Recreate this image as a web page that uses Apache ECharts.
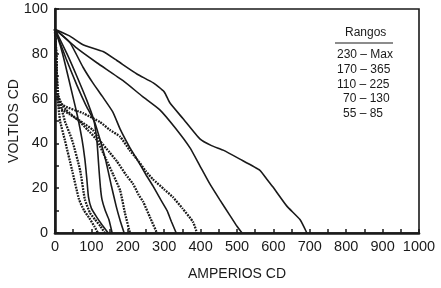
<!DOCTYPE html>
<html>
<head>
<meta charset="utf-8">
<script src="https://cdn.jsdelivr.net/npm/echarts@6/dist/echarts.min.js"></script>
<style>html,body{margin:0;padding:0;background:#fff}#c{width:441px;height:288px}</style>
</head>
<body>
<div id="c"></div>
<script>
var xTicks = [0,100,200,300,400,500,600,700,800,900,1000];
var yTicks = [0,20,40,60,80,100];
var legendTitle = 'Rangos';
var legendRows = ['230 – Max','170 – 365','110 – 225','70 – 130','55 – 85'];

// solid curves (max of each range)
var s1 = [[0,91],[40,88],[77,84],[132,81],[170,77],[225,71],[270,67],[300,63],[316,58],[352,51],[398,42],[430,39],[462,37],[508,33],[563,28],[582,24],[599,20.5],[637,12],[673,6],[692,0]];
var s2 = [[0,91],[60,82.5],[115,76],[187,68],[240,61],[288,55],[330,47],[371,38],[398,30],[425,22],[452,15],[480,8],[500,3],[514,0]];
var s3 = [[0,91],[41,85],[77,74],[104,67],[130,61],[159,54],[180,46],[206,38],[225,33],[250,26],[269,21],[290,15],[308,10],[320,5],[333,0]];
var s4 = [[0,91],[33,80],[60,70],[88,59],[110,49],[124,41.5],[140,32],[155,21],[168,12],[180,5],[190,0]];
var s5 = [[0,91],[30,78],[60,66],[85,57],[107,50],[115,41.5],[118,35],[121,28],[125,20],[129,15],[138,10],[148,6],[157,0]];
var s6 = [[0,91],[14,84],[27,76],[49,61],[62,52],[74,42],[82,33],[87,25],[92,16],[100,11],[115,7],[130,3.5],[146,0]];
// dotted curves (min of each range)
var d1 = [[0,91],[4,78],[6,62],[22,57],[77,53.5],[124,49.5],[151,46],[179,43],[205,37],[225,33],[250,27.5],[269,24],[300,19.5],[324,16],[350,11],[379,5],[390,0]];
var d2 = [[0,91],[4,78],[7,62],[12,56],[40,53],[69,50],[104,46],[124,41],[150,36],[170,32],[195,26],[214,22],[230,17],[242,14],[261,7],[280,0]];
var d3 = [[0,91],[4,78],[8,60],[30,55],[66,50],[90,46],[115,41.5],[140,33],[160,26],[179,19],[192,9],[206,0]];
var d4 = [[0,91],[3,75],[9,62],[27,50],[47,41.5],[69,28],[82,15],[96,9],[110,6],[125,3],[137,0]];
var d5 = [[0,91],[2,75],[6,62],[14,50],[27,41.5],[47,28],[66,15],[80,10],[93,7],[108,3],[118,0]];

var solidCurves = [s1,s2,s3,s4,s5,s6];
var dottedCurves = [d1,d2,d3,d4,d5];

var FONT = "'Liberation Sans', Arial, sans-serif";
var INK = '#1a1a1a';

var series = [];
solidCurves.forEach(function(d){
  series.push({type:'line', data:d, symbol:'none', smooth:0.15, silent:true,
    lineStyle:{color:INK, width:1.6, type:'solid'}});
});
dottedCurves.forEach(function(d){
  series.push({type:'line', data:d, symbol:'none', smooth:0.15, silent:true,
    lineStyle:{color:INK, width:2.3, type:[1.8,1.1]}});
});

var legendX = [337,337,337,343,343];
var graphics = [
  {type:'text', left:345, top:27, style:{text:legendTitle, font:'12px '+FONT, fill:INK}},
  {type:'line', shape:{x1:335,y1:43,x2:393,y2:43}, style:{stroke:INK, lineWidth:1.2}}
];
legendRows.forEach(function(t,i){
  graphics.push({type:'text', left:legendX[i], top:49 + i*14.6, style:{text:t, font:'12px '+FONT, fill:INK}});
});

var chart = echarts.init(document.getElementById('c'), null, {renderer:'canvas'});
chart.setOption({
  animation:false,
  grid:{left:55, right:22, top:9, bottom:55, outerBoundsMode:'none', containLabel:false, show:true, borderColor:INK, borderWidth:1.6, backgroundColor:'transparent'},
  xAxis:{type:'value', min:xTicks[0], max:xTicks[xTicks.length-1], interval:100,
    name:'AMPERIOS CD', nameLocation:'middle', nameGap:34, nameMoveOverlap:false,
    nameTextStyle:{fontFamily:FONT, fontSize:14, color:INK},
    axisLine:{show:true, onZero:false, lineStyle:{color:INK, width:2.6}},
    axisTick:{show:true, inside:true, length:4, lineStyle:{color:INK, width:1.5}},
    minorTick:{show:true, splitNumber:2, length:4, lineStyle:{color:INK, width:1.5}},
    splitLine:{show:false},
    axisLabel:{fontFamily:FONT, fontSize:14.5, color:INK, margin:6, formatter:function(v){return String(v);}}
  },
  yAxis:{type:'value', min:yTicks[0], max:yTicks[yTicks.length-1], interval:20,
    name:'VOLTIOS CD', nameLocation:'middle', nameGap:34, nameMoveOverlap:false,
    nameTextStyle:{fontFamily:FONT, fontSize:14, color:INK},
    axisLine:{show:true, onZero:false, lineStyle:{color:INK, width:2.6}},
    axisTick:{show:true, inside:true, length:4, lineStyle:{color:INK, width:1.5}},
    minorTick:{show:true, splitNumber:2, length:4, lineStyle:{color:INK, width:1.5}},
    splitLine:{show:false},
    axisLabel:{fontFamily:FONT, fontSize:14.5, color:INK, margin:7, formatter:function(v){return String(v);}}
  },
  graphic:graphics,
  series:series
});
</script>
</body>
</html>
